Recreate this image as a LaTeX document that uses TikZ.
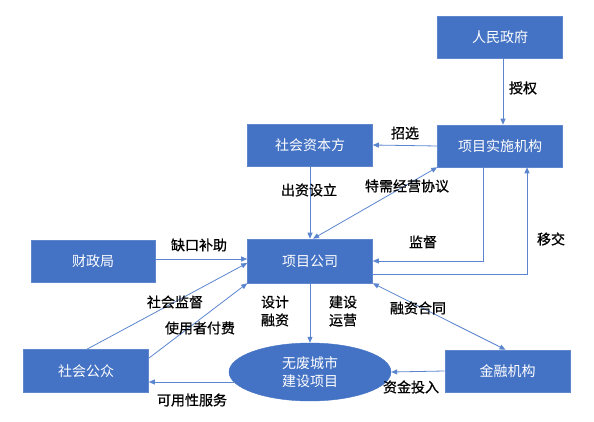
\documentclass[tikz,border=0pt]{standalone}
\usepackage{fontspec}
\newfontfamily\cjk{Noto Sans CJK SC}
\newfontfamily\cjkb[FakeBold=0.8]{Noto Sans CJK SC}
\usetikzlibrary{arrows.meta,shapes.geometric,calc}
\definecolor{boxblue}{HTML}{4472C4}
\definecolor{lineblue}{HTML}{5B86CF}
\begin{document}
\begin{tikzpicture}[x=1pt,y=-1pt,
  box/.style={rectangle,fill=boxblue,draw=boxblue!85!white,line width=0.6pt,minimum width=125pt,minimum height=42pt,inner sep=0pt,text=white,font=\cjk\fontsize{14}{17}\selectfont},
  oval/.style={ellipse,fill=boxblue,draw=boxblue,minimum width=162pt,minimum height=58pt,inner sep=0pt,text=white,align=center,font=\cjk\fontsize{14}{18}\selectfont},
  lbl/.style={text=black,inner sep=0pt,align=center,font=\cjkb\fontsize{14}{18}\selectfont},
  conn/.style={draw=lineblue,line width=0.8pt,-{Triangle[length=6pt,width=5pt]}},
  both/.style={draw=lineblue,line width=0.8pt,{Triangle[length=6pt,width=5pt]}-{Triangle[length=6pt,width=5pt]}}]
\path[use as bounding box,fill=white] (0,0) rectangle (594,422);
% nodes
\node[box] (gov) at (500,37) {人民政府};
\node[box] (impl) at (500,146) {项目实施机构};
\node[box] (cap) at (310,145) {社会资本方};
\node[box,minimum height=44pt] (comp) at (310,261) {项目公司};
\node[box,minimum width=124pt] (fin) at (93,261) {财政局};
\node[box,minimum height=43pt] (pub) at (86,371) {社会公众};
\node[oval] (proj) at (310,372) {无废城市\\建设项目};
\node[box] (bank) at (507.5,371) {金融机构};
% connectors
\draw[conn] ($(gov.south)+(3,0)$) -- ($(impl.north)+(3,0)$);
\draw[conn] (impl.west) -- (cap.east);
\draw[conn] (cap.south) -- (comp.north);
\draw[both] ($(comp.north)+(3,0)$) -- (impl.south west);
\draw[conn] ($(impl.south)+(-17,0)$) |- (comp.east);
\draw[conn] ($(comp.east)+(0,13)$) -| ($(impl.south)+(27,0)$);
\draw[conn] ($(fin.east)+(0,-2)$) -- ($(comp.west)+(0,-2)$);
\draw[conn] ($(pub.north)+(1,0)$) -- ($(comp.west)+(0,2)$);
\draw[conn] ($(pub.north east)+(0,9)$) -- (comp.south west);
\draw[conn] (comp.south) -- (proj.north);
\draw[both] (comp.south east) -- ($(bank.north)+(-2,0)$);
\draw[conn] (bank.west) -- (proj.east);
\coordinate (pjl) at ($(proj.center)+(-76,10)$);
\draw[conn] (pjl) -- (pjl -| pub.east);
% labels
\node[lbl] (l1) at (523,88) {授权};
\node[lbl] (l2) at (405,133) {招选};
\node[lbl] (l3) at (309,190) {出资设立};
\node[lbl] (l4) at (407,186) {特需经营协议};
\node[lbl] (l5) at (423,242) {监督};
\node[lbl] (l6) at (551,239) {移交};
\node[lbl] (l7) at (199,245) {缺口补助};
\node[lbl] (l8) at (175,302) {社会监督};
\node[lbl] (l9) at (200,328) {使用者付费};
\node[lbl] (l10) at (275,311) {设计\\融资};
\node[lbl] (l11) at (343,311) {建设\\运营};
\node[lbl] (l12) at (418,308) {融资合同};
\node[lbl] (l13) at (411,387) {资金投入};
\node[lbl] (l14) at (192,400) {可用性服务};
\end{tikzpicture}
\end{document}
